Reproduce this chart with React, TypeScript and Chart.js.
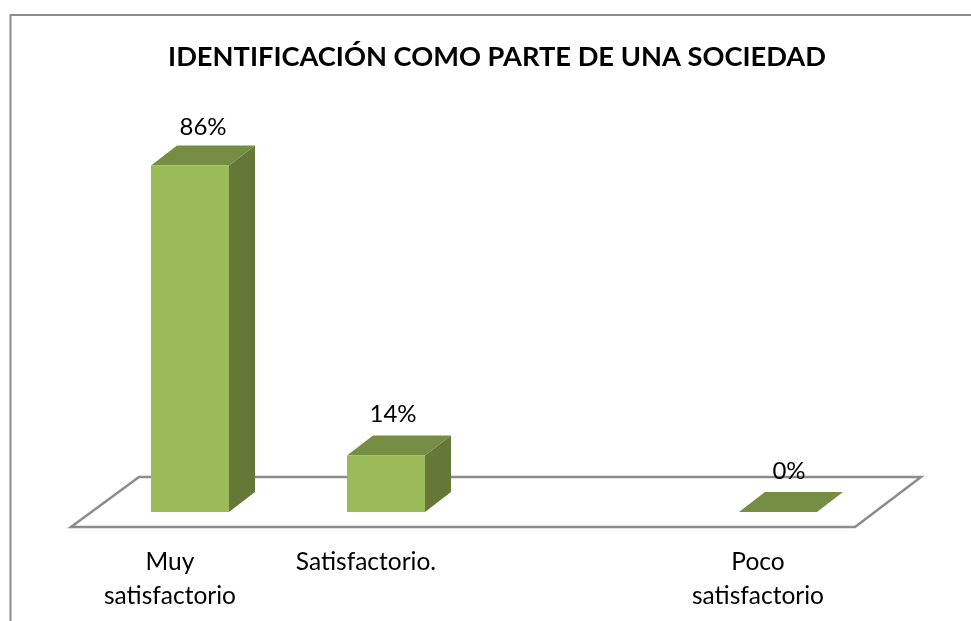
import React, { useEffect, useRef } from "react";
import { Chart, registerables } from "chart.js";

Chart.register(...registerables);

const categories = [["Muy", "satisfactorio"], ["Satisfactorio."], [""], ["Poco", "satisfactorio"]];
const values = [86, 14, null, 0];
const percentLabels = ["86%", "14%", "", "0%"];
const titleText = "IDENTIFICACIÓN COMO PARTE DE UNA SOCIEDAD";

const FONT = "Lato, 'Open Sans', sans-serif";
const DEPTH_X = 26;
const DEPTH_Y = 20;
const labelShift = [[13, -38], [7, -41], [0, 0], [11, -41]];

const threeD = {
  id: "threeD",
  afterLayout(chart: any) {
    chart.titleBlock.left += 13;
    chart.titleBlock.right += 13;
  },
  beforeDraw(chart: any) {
    const c = chart.ctx;
    c.save();
    c.fillStyle = "#fff";
    c.fillRect(0, 0, chart.width, chart.height);
    c.strokeStyle = "#8c8c8c";
    c.lineWidth = 2;
    c.beginPath();
    c.moveTo(10.5, chart.height);
    c.lineTo(10.5, 15);
    c.lineTo(chart.width, 15);
    c.stroke();
    c.restore();
  },
  beforeDatasetsDraw(chart: any) {
    const c = chart.ctx;
    const a = chart.chartArea;
    c.save();
    c.strokeStyle = "#8c8c8c";
    c.lineWidth = 2.5;
    c.lineJoin = "miter";
    c.beginPath();
    c.moveTo(a.left - 21, a.bottom + 15);
    c.lineTo(a.right - 21, a.bottom + 15);
    c.lineTo(a.right + 45, a.bottom - 35);
    c.lineTo(a.left + 47, a.bottom - 35);
    c.closePath();
    c.stroke();
    const meta = chart.getDatasetMeta(0);
    meta.data.forEach((b: any, i: number) => {
      if (values[i] === null) return;
      const l = b.x - b.width / 2;
      const r = b.x + b.width / 2;
      c.fillStyle = "#667838";
      c.beginPath();
      c.moveTo(r, b.y);
      c.lineTo(r + DEPTH_X, b.y - DEPTH_Y);
      c.lineTo(r + DEPTH_X, b.base - DEPTH_Y);
      c.lineTo(r, b.base);
      c.closePath();
      c.fill();
      c.fillStyle = "#768E43";
      c.beginPath();
      c.moveTo(l, b.y);
      c.lineTo(l + DEPTH_X, b.y - DEPTH_Y);
      c.lineTo(r + DEPTH_X, b.y - DEPTH_Y);
      c.lineTo(r, b.y);
      c.closePath();
      c.fill();
    });
    c.restore();
  },
  afterDatasetsDraw(chart: any) {
    const c = chart.ctx;
    const meta = chart.getDatasetMeta(0);
    c.save();
    c.fillStyle = "#000";
    c.font = `24px ${FONT}`;
    c.textAlign = "center";
    c.textBaseline = "middle";
    meta.data.forEach((b: any, i: number) => {
      if (values[i] === null) return;
      c.fillText(percentLabels[i], b.x + labelShift[i][0], b.y + labelShift[i][1]);
    });
    c.restore();
  },
};

export default function App() {
  const ref = useRef<HTMLCanvasElement>(null);
  useEffect(() => {
    const chart = new Chart(ref.current!, {
      type: "bar",
      data: {
        labels: categories as any,
        datasets: [
          {
            data: values as any,
            backgroundColor: "#9BBB59",
            barPercentage: 1,
            categoryPercentage: 0.398,
          },
        ],
      },
      options: {
        responsive: false,
        animation: false,
        layout: { padding: { left: 92, right: 95, top: 0, bottom: 0 } },
        plugins: {
          legend: { display: false },
          tooltip: { enabled: false },
          title: {
            display: true,
            text: titleText,
            color: "#000",
            font: { family: FONT, size: 27.25, weight: "bold", lineHeight: 1.2 },
            padding: { top: 41, bottom: 35.3 },
          },
        },
        scales: {
          x: {
            grid: { display: false },
            border: { display: false },
            ticks: {
              color: "#000",
              font: { family: FONT, size: 24.5, lineHeight: 1.35 },
              padding: 26,
              labelOffset: -20,
              autoSkip: false,
              maxRotation: 0,
              minRotation: 0,
            },
            afterFit(s: any) {
              s.height = 109;
            },
          },
          y: { display: false, min: 0, max: 100 },
        },
      } as any,
      plugins: [threeD],
    });
    return () => chart.destroy();
  }, []);
  return (
    <canvas
      ref={ref}
      width={971}
      height={621}
      style={{ position: "fixed", left: 0, top: 0, display: "block" }}
    />
  );
}
